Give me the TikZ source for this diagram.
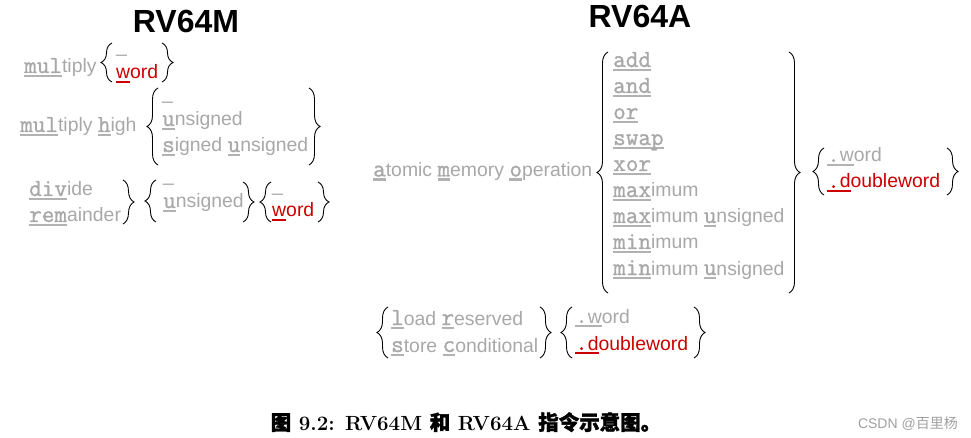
\documentclass[tikz,border=0pt]{standalone}
\usepackage{fontspec}
\newfontfamily\sansf{Liberation Sans}
\newfontfamily\monof[FakeBold=1.2]{Latin Modern Mono}
\newfontfamily\cjk[FakeBold=1.5]{Noto Sans CJK SC}
\usetikzlibrary{decorations.pathreplacing}
\usepackage{xcolor}
\definecolor{opgray}{RGB}{168,168,168}
\definecolor{ulgray}{RGB}{178,178,178}
\definecolor{wred}{RGB}{204,0,0}
\definecolor{markgray}{RGB}{160,160,160}

\newsavebox\ulbox
\newcommand\ulmark[2][ulgray]{\sbox\ulbox{#2}\rlap{\textcolor{#1}{\rule[-4.4pt]{\wd\ulbox}{2.4pt}}}\usebox\ulbox}
\newcommand\mono[1]{{\monof\fontsize{24.5}{26}\selectfont #1}}

\begin{document}
\begin{tikzpicture}[x=1pt,y=-1pt]
\tikzstyle{op} = [anchor=base west, inner sep=0pt, text=opgray,
font=\sansf\fontsize{19.4}{26}\selectfont]
\tikzstyle{opred} = [op, text=wred]
\tikzstyle{title} = [anchor=base, inner sep=0pt, font=\sansf\bfseries\fontsize{32}{36}\selectfont]
\tikzstyle{brc} = [draw, line width=0.9pt, decorate, decoration={brace, amplitude=11pt, aspect=0.5}]
\useasboundingbox (0,0) rectangle (971,438);

% titles
\node [title] (tM) at (186,33) {RV64M};
\node [title] (tA) at (640,28) {RV64A};

% multiply
\node [op] (mul) at (24,73) {\ulmark{\mono{mul}}tiply};
\node [op] (mula) at (116,53) {\_};
\node [opred] (mulb) at (116,79) {\ulmark[wred]{w}ord};
\path [brc] (112,82) -- (112,43);
\path [brc] (162,43) -- (162,82);

% multiply high
\node [op] (mulh) at (20,132) {\ulmark{\mono{mul}}tiply \ulmark{\mono{h}}igh};
\node [op] (mulha) at (162,100) {\_};
\node [op] (mulhb) at (162,126) {\ulmark{\mono{u}}nsigned};
\node [op] (mulhc) at (162,152) {\ulmark{\mono{s}}igned \ulmark{\mono{u}}nsigned};
\path [brc] (158,165) -- (158,88);
\path [brc] (309,88) -- (309,165);

% divide / remainder
\node [op] (div) at (29,196) {\ulmark{\mono{div}}ide};
\node [op] (rem) at (29,222) {\ulmark{\mono{rem}}ainder};
\path [brc] (123,180) -- (123,224);
\node [op] (diva) at (163,182) {\_};
\node [op] (divb) at (163,208) {\ulmark{\mono{u}}nsigned};
\path [brc] (156,222) -- (156,180);
\path [brc] (243,182) -- (243,222);
\node [op] (divc) at (272,192) {\_};
\node [opred] (divd) at (272,217) {\ulmark[wred]{w}ord};
\path [brc] (271,222) -- (271,182);
\path [brc] (318,182) -- (318,222);

% atomic memory operation
\node [op] (amo) at (373,176.5) {\ulmark{\mono{a}}tomic \ulmark{\mono{m}}emory \ulmark{\mono{o}}peration};
\node [op] (add) at (613,67) {\ulmark{\mono{add}}};
\node [op] (and) at (613,93) {\ulmark{\mono{and}}};
\node [op] (or) at (613,119) {\ulmark{\mono{or}}};
\node [op] (swap) at (613,145) {\ulmark{\mono{swap}}};
\node [op] (xor) at (613,171) {\ulmark{\mono{xor}}};
\node [op] (max) at (613,197) {\ulmark{\mono{max}}imum};
\node [op] (maxu) at (613,223) {\ulmark{\mono{max}}imum \ulmark{\mono{u}}nsigned};
\node [op] (min) at (613,249) {\ulmark{\mono{min}}imum};
\node [op] (minu) at (613,275) {\ulmark{\mono{min}}imum \ulmark{\mono{u}}nsigned};
\path [brc] (608,293) -- (608,52);
\path [brc] (789,52) -- (789,293);
\node [op] (amow) at (827,162) {\ulmark{\mono{.}w}ord};
\node [opred] (amod) at (827,188) {\ulmark[wred]{\mono{.}d}oubleword};
\path [brc] (824,195) -- (824,148);
\path [brc] (947,148) -- (947,195);

% load reserved / store conditional
\node [op] (lr) at (391,325) {\ulmark{\mono{l}}oad \ulmark{\mono{r}}eserved};
\node [op] (sc) at (391,352) {\ulmark{\mono{s}}tore \ulmark{\mono{c}}onditional};
\path [brc] (388,358) -- (388,307);
\path [brc] (540,307) -- (540,358);
\node [op] (lrw) at (575,323) {\ulmark{\mono{.}w}ord};
\node [opred] (lrd) at (575,350) {\ulmark[wred]{\mono{.}d}oubleword};
\path [brc] (572,358) -- (572,307);
\path [brc] (694,307) -- (694,358);

% caption
\node [anchor=base, inner sep=0pt, font=\fontsize{20.5}{24}\selectfont\bfseries] (cap) at (466,430)
{{\cjk 图} 9.2: RV64M {\cjk 和} RV64A {\cjk 指令示意图。}};
\node [anchor=base east, inner sep=0pt, text=markgray, font=\sansf\fontsize{14}{16}\selectfont] (mark) at (958,428)
{CSDN @{\cjk\addfontfeatures{FakeBold=0} 百里杨}};
\end{tikzpicture}
\end{document}
